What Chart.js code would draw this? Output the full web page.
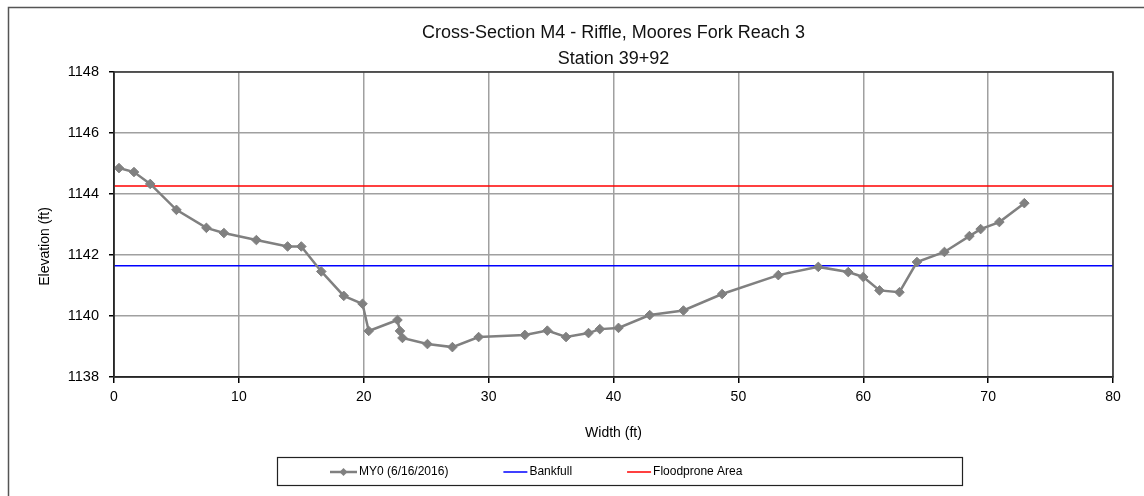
<!DOCTYPE html>
<html>
<head>
<meta charset="utf-8">
<title>Cross-Section M4</title>
<script src="https://cdn.jsdelivr.net/npm/chart.js@4.4.1/dist/chart.umd.min.js"></script>
<style>
html, body { margin: 0; padding: 0; background: #fff; }
#wrap { width: 1144px; height: 496px; position: relative; }
</style>
</head>
<body>
<div id="wrap"><canvas id="myChart"></canvas></div>
<script>
// survey points
var widthFt = [0.4, 1.6, 2.9, 5.0, 7.4, 8.8, 11.4, 13.9, 15.0, 16.6,
	18.4, 19.9, 20.4, 22.7, 22.9, 23.1, 25.1, 27.1, 29.2, 32.9,
	34.7, 36.2, 38.0, 38.9, 40.4, 42.9, 45.6, 48.7, 53.2, 56.4,
	58.8, 60.0, 61.3, 62.9, 64.3, 66.5, 68.5, 69.4, 70.9, 72.9];
var elevationFt = [1144.85, 1144.72, 1144.33, 1143.48, 1142.89, 1142.72, 1142.49, 1142.28, 1142.28, 1141.46,
	1140.66, 1140.40, 1139.51, 1139.87, 1139.51, 1139.28, 1139.08, 1138.98, 1139.31, 1139.38,
	1139.52, 1139.31, 1139.44, 1139.57, 1139.61, 1140.03, 1140.18, 1140.72, 1141.34, 1141.61,
	1141.44, 1141.28, 1140.84, 1140.78, 1141.77, 1142.10, 1142.62, 1142.85, 1143.08, 1143.70];

var seriesNames = ['MY0 (6/16/2016)', 'Bankfull', 'Floodprone Area'];
var bankfullElev = 1141.65;
var floodproneElev = 1144.26;

var xRange = [0, 80], xStep = 10;
var yRange = [1138, 1148], yStep = 2;

var titleLines = ['Cross-Section M4 - Riffle, Moores Fork Reach 3', 'Station 39+92'];
var xTitle = 'Width (ft)';
var yTitle = 'Elevation (ft)';

var FONT = "'Liberation Sans', Arial, sans-serif";

function toPoints(xs, ys) {
	var pts = [];
	for (var i = 0; i < xs.length; i++) pts.push({ x: xs[i], y: ys[i] });
	return pts;
}

// frame around plot area, outer chart border and the boxed legend
var framePlugin = {
	id: 'frame',
	afterDraw: function(chart) {
		var c = chart.ctx, a = chart.chartArea;
		c.save();
		c.strokeStyle = '#333';
		c.lineWidth = 1.5;
		c.strokeRect(a.left, a.top, a.right - a.left, a.bottom - a.top);

		c.strokeStyle = '#555';
		c.lineWidth = 1.5;
		c.strokeRect(8.5, 7.5, 1300, 700);

		// y axis title, Excel puts it a bit below the middle
		c.save();
		c.translate(45, (a.top + a.bottom) / 2 + 22);
		c.rotate(-Math.PI / 2);
		c.font = '14px ' + FONT;
		c.fillStyle = '#000';
		c.textAlign = 'center';
		c.textBaseline = 'middle';
		c.fillText(yTitle, 0, 0);
		c.restore();

		// legend
		var boxL = a.left + 163, boxR = a.right - 151, boxT = a.bottom + 80, boxB = a.bottom + 108;
		c.strokeStyle = '#222';
		c.lineWidth = 1.2;
		c.strokeRect(boxL + 0.5, boxT + 0.5, boxR - boxL, boxB - boxT);
		var cy = (boxT + boxB) / 2 + 1;
		var x = boxL + 53;
		c.font = '12px ' + FONT;
		c.textBaseline = 'middle';
		c.textAlign = 'left';
		chart.data.datasets.forEach(function(ds, i) {
			var sw = i === 0 ? 27 : 24;
			c.strokeStyle = ds.borderColor;
			c.lineWidth = i === 0 ? 2.5 : 1.5;
			c.beginPath();
			c.moveTo(x, cy);
			c.lineTo(x + sw, cy);
			c.stroke();
			if (i === 0) {
				c.fillStyle = ds.borderColor;
				c.beginPath();
				var mx = x + sw / 2;
				c.moveTo(mx, cy - 4);
				c.lineTo(mx + 4, cy);
				c.lineTo(mx, cy + 4);
				c.lineTo(mx - 4, cy);
				c.closePath();
				c.fill();
			}
			x += sw + 2;
			c.fillStyle = '#000';
			c.fillText(ds.label, x, cy);
			x += c.measureText(ds.label).width + 55;
		});
		c.restore();
	}
};

var chart = new Chart(document.getElementById('myChart').getContext('2d'), {
	type: 'scatter',
	data: {
		datasets: [{
			label: seriesNames[0],
			data: toPoints(widthFt, elevationFt),
			showLine: true,
			borderColor: '#808080',
			backgroundColor: '#808080',
			borderWidth: 2.5,
			pointStyle: 'rectRot',
			pointRadius: 4.8,
			pointHoverRadius: 4.8,
			pointBorderWidth: 1,
		}, {
			label: seriesNames[1],
			data: toPoints(xRange, [bankfullElev, bankfullElev]),
			showLine: true,
			borderColor: '#0000ff',
			backgroundColor: '#0000ff',
			borderWidth: 1.5,
			pointRadius: 0,
		}, {
			label: seriesNames[2],
			data: toPoints(xRange, [floodproneElev, floodproneElev]),
			showLine: true,
			borderColor: '#ff0000',
			backgroundColor: '#ff0000',
			borderWidth: 1.5,
			pointRadius: 0,
		}]
	},
	options: {
		responsive: true,
		maintainAspectRatio: false,
		animation: false,
		events: [],
		layout: { padding: { left: 0, right: 31, top: 0, bottom: 49 } },
		plugins: {
			legend: { display: false },
			tooltip: { enabled: false },
			title: {
				display: true,
				text: titleLines,
				fullSize: false,
				color: '#111',
				font: { family: FONT, size: 18, weight: 'normal', lineHeight: '26px' },
				padding: { top: 20, bottom: 0 }
			}
		},
		scales: {
			x: {
				type: 'linear',
				min: xRange[0],
				max: xRange[1],
				afterFit: function(s) { s.height = 70; },
				ticks: {
					stepSize: xStep,
					color: '#000',
					padding: 6,
					font: { family: FONT, size: 14 }
				},
				grid: { color: '#a0a0a0', lineWidth: 1.5, tickColor: '#000', tickLength: 6 },
				border: { color: '#000', width: 1.5 },
				title: {
					display: true,
					text: xTitle,
					color: '#000',
					font: { family: FONT, size: 14 },
					padding: { top: 0, bottom: 5 }
				}
			},
			y: {
				min: yRange[0],
				max: yRange[1],
				afterFit: function(s) { s.width = 114; },
				ticks: {
					stepSize: yStep,
					color: '#000',
					padding: 10,
					font: { family: FONT, size: 14.5 },
					callback: function(v) { return String(v); }
				},
				grid: { color: '#a0a0a0', lineWidth: 1.5, tickColor: '#000', tickLength: 5 },
				border: { color: '#000', width: 1.5 },
				title: { display: false }
			}
		}
	},
	plugins: [framePlugin]
});
</script>
</body>
</html>
